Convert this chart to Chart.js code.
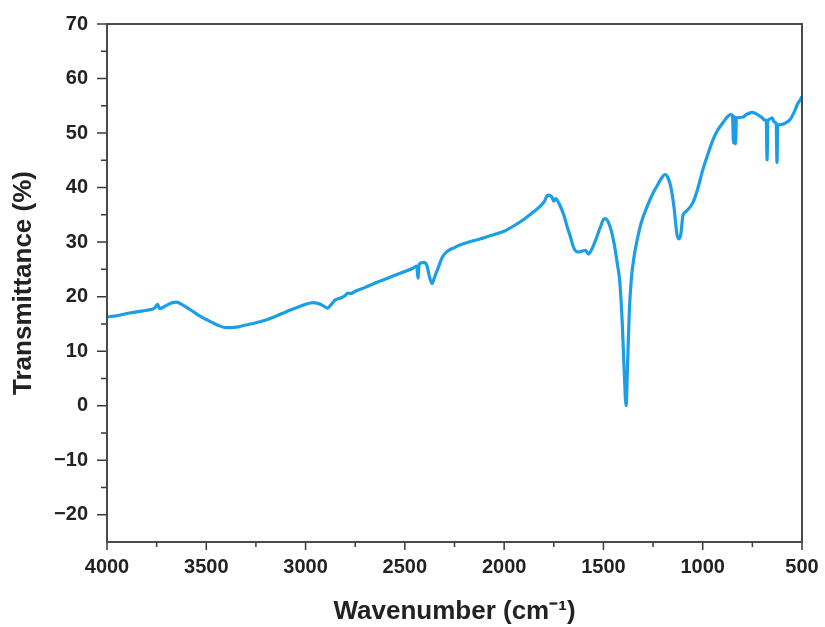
<!DOCTYPE html>
<html>
<head>
<meta charset="utf-8">
<script src="https://cdn.jsdelivr.net/npm/chart.js@4"></script>
<style>
  html, body { margin: 0; padding: 0; background: #fff; }
  #wrap { width: 825px; height: 627px; }
</style>
</head>
<body>
<div id="wrap"><canvas id="ftir" width="825" height="627"></canvas></div>
<script>
// Spectre FTIR
const wavenumbers = [
  4000, 3950, 3900, 3850, 3800, 3760, 3745, 3735, 3700, 3670, 3650, 3620, 3580, 3540, 3500,
  3450, 3400, 3350, 3300, 3250, 3200, 3150, 3100, 3050, 3000, 2960, 2920, 2890, 2870, 2850,
  2820, 2800, 2790, 2770, 2750, 2700, 2650, 2600, 2550, 2500, 2460, 2440, 2434, 2428, 2405,
  2390, 2375, 2363, 2350, 2330, 2310, 2290, 2250, 2220, 2150, 2100, 2050, 2000, 1950, 1900,
  1850, 1800, 1780, 1760, 1750, 1740, 1720, 1700, 1680, 1668, 1650, 1630, 1610, 1590, 1575,
  1560, 1540, 1515, 1495, 1480, 1460, 1445, 1430, 1417, 1405, 1395, 1386, 1378, 1370, 1360,
  1345, 1330, 1310, 1280, 1250, 1230, 1210, 1190, 1175, 1160, 1145, 1130, 1120, 1110, 1100,
  1085, 1050, 1025, 1000, 975, 950, 925, 900, 875, 860, 850, 845, 840, 835, 830,
  800, 780, 750, 720, 700, 690, 680, 676, 672, 660, 650, 640, 630, 626, 622,
  600, 580, 560, 540, 520, 510, 500
];
const transmittance = [
  16.3, 16.5, 16.9, 17.2, 17.5, 17.9, 18.6, 17.8, 18.4, 18.9, 19.0, 18.5, 17.6, 16.6, 15.8,
  14.9, 14.3, 14.4, 14.8, 15.2, 15.7, 16.4, 17.2, 17.9, 18.6, 18.9, 18.5, 17.9, 18.6, 19.4,
  19.8, 20.2, 20.6, 20.6, 21.0, 21.7, 22.5, 23.2, 23.9, 24.6, 25.2, 25.6, 23.4, 25.9, 26.3,
  25.8, 23.5, 22.4, 23.6, 25.5, 27.3, 28.2, 29.0, 29.5, 30.3, 30.8, 31.4, 32.0, 33.0, 34.2,
  35.6, 37.3, 38.6, 38.3, 37.5, 38.0, 36.8, 35.0, 32.5, 31.2, 29.0, 28.2, 28.3, 28.5, 27.8,
  28.6, 30.3, 32.8, 34.3, 34.0, 32.0, 29.5, 26.0, 22.5, 15.0, 6.0, 0.0, 8.0, 17.0, 23.0,
  27.5, 30.4, 33.5, 36.5, 39.0, 40.3, 41.6, 42.4, 41.8, 40.0, 36.5, 31.5, 30.6, 31.5, 34.8,
  35.6, 37.2, 39.8, 43.2, 46.0, 48.6, 50.5, 51.8, 53.0, 53.4, 53.2, 48.2, 53.0, 48.0, 52.8,
  52.9, 53.4, 53.8, 53.3, 52.8, 52.4, 52.3, 45.1, 52.2, 52.6, 52.8, 52.0, 51.8, 44.6, 51.5,
  51.6, 51.9, 52.5, 53.8, 55.5, 56.0, 56.7
];

// Graduations
const xMajorTicks = [4000, 3500, 3000, 2500, 2000, 1500, 1000, 500];
const xMinorTicks = [3750, 3250, 2750, 2250, 1750, 1250, 750];
const yMajorTicks = [-20, -10, 0, 10, 20, 30, 40, 50, 60, 70];
const yMinorTicks = [-15, -5, 5, 15, 25, 35, 45, 55, 65];

const points = wavenumbers.map((w, i) => ({ x: w, y: transmittance[i] }));

// Cadre + petites graduations tournées vers l'extérieur
const frameTicks = {
  id: 'frameTicks',
  afterDraw(chart) {
    const { ctx, chartArea: a, scales: { x, y } } = chart;
    ctx.save();
    ctx.strokeStyle = '#3a3a3a';
    ctx.lineWidth = 1.5;
    ctx.beginPath();
    yMajorTicks.forEach(v => { const p = y.getPixelForValue(v); ctx.moveTo(a.left - 10, p); ctx.lineTo(a.left, p); });
    yMinorTicks.forEach(v => { const p = y.getPixelForValue(v); ctx.moveTo(a.left - 6, p); ctx.lineTo(a.left, p); });
    xMajorTicks.forEach(v => { const p = x.getPixelForValue(v); ctx.moveTo(p, a.bottom); ctx.lineTo(p, a.bottom + 8); });
    xMinorTicks.forEach(v => { const p = x.getPixelForValue(v); ctx.moveTo(p, a.bottom); ctx.lineTo(p, a.bottom + 5); });
    ctx.stroke();
    ctx.lineWidth = 2;
    ctx.strokeStyle = '#4a4a4a';
    ctx.strokeRect(a.left, a.top, a.right - a.left, a.bottom - a.top);
    ctx.restore();
  }
};

const tickFont = { family: 'Liberation Sans', size: 20, weight: 'bold' };
const titleFont = { family: 'Liberation Sans', size: 26, weight: 'bold' };

const ctx = document.getElementById('ftir').getContext('2d');
new Chart(ctx, {
  type: 'line',
  data: {
    datasets: [{
      data: points,
      borderColor: 'rgb(28,158,230)',
      borderWidth: 3.2,
      pointRadius: 0,
      cubicInterpolationMode: 'monotone',
      fill: false
    }]
  },
  options: {
    responsive: false,
    animation: false,
    devicePixelRatio: 1,
    layout: { padding: { top: 24, right: 23, left: 0, bottom: 0 } },
    plugins: { legend: { display: false }, tooltip: { enabled: false } },
    scales: {
      x: {
        type: 'linear',
        reverse: true,
        min: 500,
        max: 4000,
        grid: { display: false, drawTicks: false },
        border: { display: false },
        ticks: {
          stepSize: 500,
          padding: 13,
          color: '#222',
          font: tickFont,
          callback: v => String(v)
        },
        title: {
          display: true,
          text: 'Wavenumber (cm⁻¹)',
          color: '#222',
          padding: { top: 2, bottom: 0 },
          font: titleFont
        },
        afterFit: s => { s.height = 85; s.paddingLeft = 0; s.paddingRight = 0; }
      },
      y: {
        min: -25,
        max: 70,
        grid: { display: false, drawTicks: false },
        border: { display: false },
        ticks: {
          stepSize: 10,
          padding: 19,
          color: '#222',
          font: tickFont,
          callback: v => (v % 10 === 0 ? String(v).replace('-', '\u2212') : '')
        },
        title: {
          display: true,
          text: 'Transmittance (%)',
          color: '#222',
          padding: { top: 8, bottom: 0 },
          font: titleFont
        },
        afterFit: s => { s.width = 107; s.paddingTop = 0; s.paddingBottom = 0; }
      }
    }
  },
  plugins: [frameTicks]
});
</script>
</body>
</html>
